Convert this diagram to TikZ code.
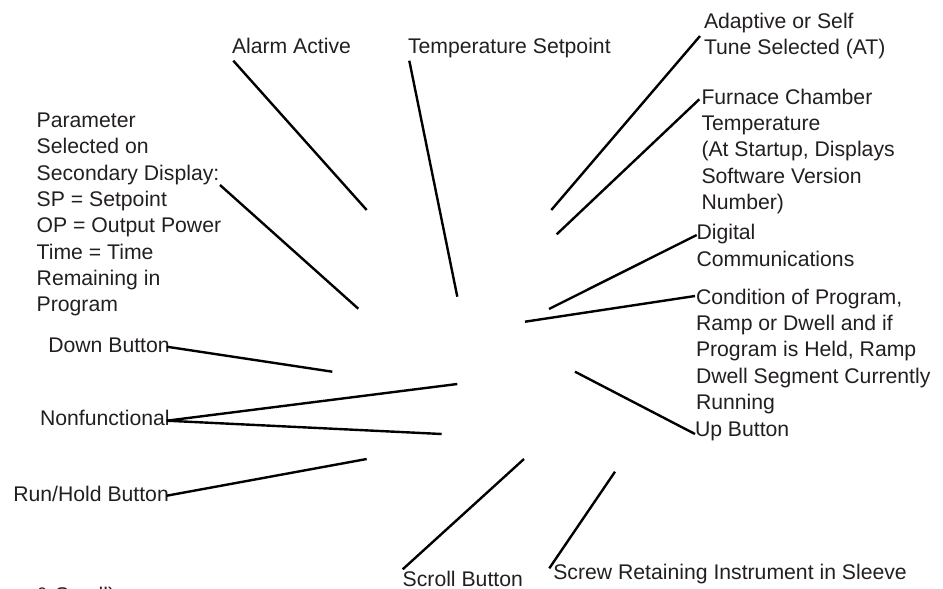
\documentclass[tikz,border=0pt]{standalone}
\usepackage{fontspec}
\setmainfont{Liberation Sans}
\definecolor{txt}{HTML}{231F20}
\begin{document}
\begin{tikzpicture}[x=1pt,y=-1pt,
  lbl/.style={anchor=base west,inner sep=0pt,outer sep=0pt,align=left,text=txt,
    font=\fontsize{21.2}{26.3}\selectfont},
  lead/.style={draw=black,line width=2.4pt}]
\useasboundingbox (0,0) rectangle (943,589);
% labels (multi-line nodes are anchored at the baseline of their last line)
\node[lbl] (alarm) at (232,53) {Alarm Active};
\node[lbl] (tsp) at (408,53) {Temperature Setpoint};
\node[lbl] (adapt) at (704,54.8) {Adaptive or Self\\Tune Selected (AT)};
\node[lbl] (furn) at (701.5,209.3) {Furnace Chamber\\Temperature\\(At Startup, Displays\\Software Version\\Number)};
\node[lbl] (digi) at (696.5,266) {Digital\\Communications};
\node[lbl] (cond) at (696,409.3) {Condition of Program,\\Ramp or Dwell and if\\Program is Held, Ramp\\Dwell Segment Currently\\Running};
\node[lbl] (up) at (695,436.7) {Up Button};
\node[lbl] (param) at (36.7,311.7) {Parameter\\Selected on\\Secondary Display:\\SP = Setpoint\\OP = Output Power\\Time = Time\\Remaining in\\Program};
\node[lbl] (down) at (48.3,352.3) {Down Button};
\node[lbl] (nonf) at (40,425) {Nonfunctional};
\node[lbl] (run) at (13.3,501.7) {Run/Hold Button};
\node[lbl] (scroll) at (402.7,586.7) {Scroll Button};
\node[lbl] (screw) at (553.3,579.3) {Screw Retaining Instrument in Sleeve};
\node[lbl] (cut) at (35,602.5) {\& Scroll)};
% leader ends
\coordinate (alarmA) at (233.3,60.7);   \coordinate (alarmB) at (366.7,210);
\coordinate (tspA) at (409.3,60.7);     \coordinate (tspB) at (457.3,296.7);
\coordinate (adaptA) at (700,36);       \coordinate (adaptB) at (551.3,210);
\coordinate (furnA) at (699.3,99.3);    \coordinate (furnB) at (556.7,234.3);
\coordinate (digiA) at (696.7,235);     \coordinate (digiB) at (549,309);
\coordinate (condA) at (695,296);       \coordinate (condB) at (525,321.7);
\coordinate (upA) at (695,434);         \coordinate (upB) at (575,371.7);
\coordinate (paramA) at (220,185);      \coordinate (paramB) at (358.3,308.7);
\coordinate (downA) at (166.7,346.7);   \coordinate (downB) at (332.3,371.7);
\coordinate (nonfA) at (166.7,420.7);   \coordinate (nonfB) at (457.3,384);
\coordinate (nonfC) at (441.7,434);
\coordinate (runA) at (166.7,495.7);    \coordinate (runB) at (366.7,459);
\coordinate (scrollA) at (402.7,569.3); \coordinate (scrollB) at (524,459);
\coordinate (screwA) at (549.3,568.3);  \coordinate (screwB) at (615,471.7);
% leaders
\draw[lead] (alarmA) -- (alarmB);
\draw[lead] (tspA) -- (tspB);
\draw[lead] (adaptA) -- (adaptB);
\draw[lead] (furnA) -- (furnB);
\draw[lead] (digiA) -- (digiB);
\draw[lead] (condA) -- (condB);
\draw[lead] (upA) -- (upB);
\draw[lead] (paramA) -- (paramB);
\draw[lead] (downA) -- (downB);
\draw[lead] (nonfA) -- (nonfB);
\draw[lead] (nonfA) -- (nonfC);
\draw[lead] (runA) -- (runB);
\draw[lead] (scrollA) -- (scrollB);
\draw[lead] (screwA) -- (screwB);
\end{tikzpicture}
\end{document}
